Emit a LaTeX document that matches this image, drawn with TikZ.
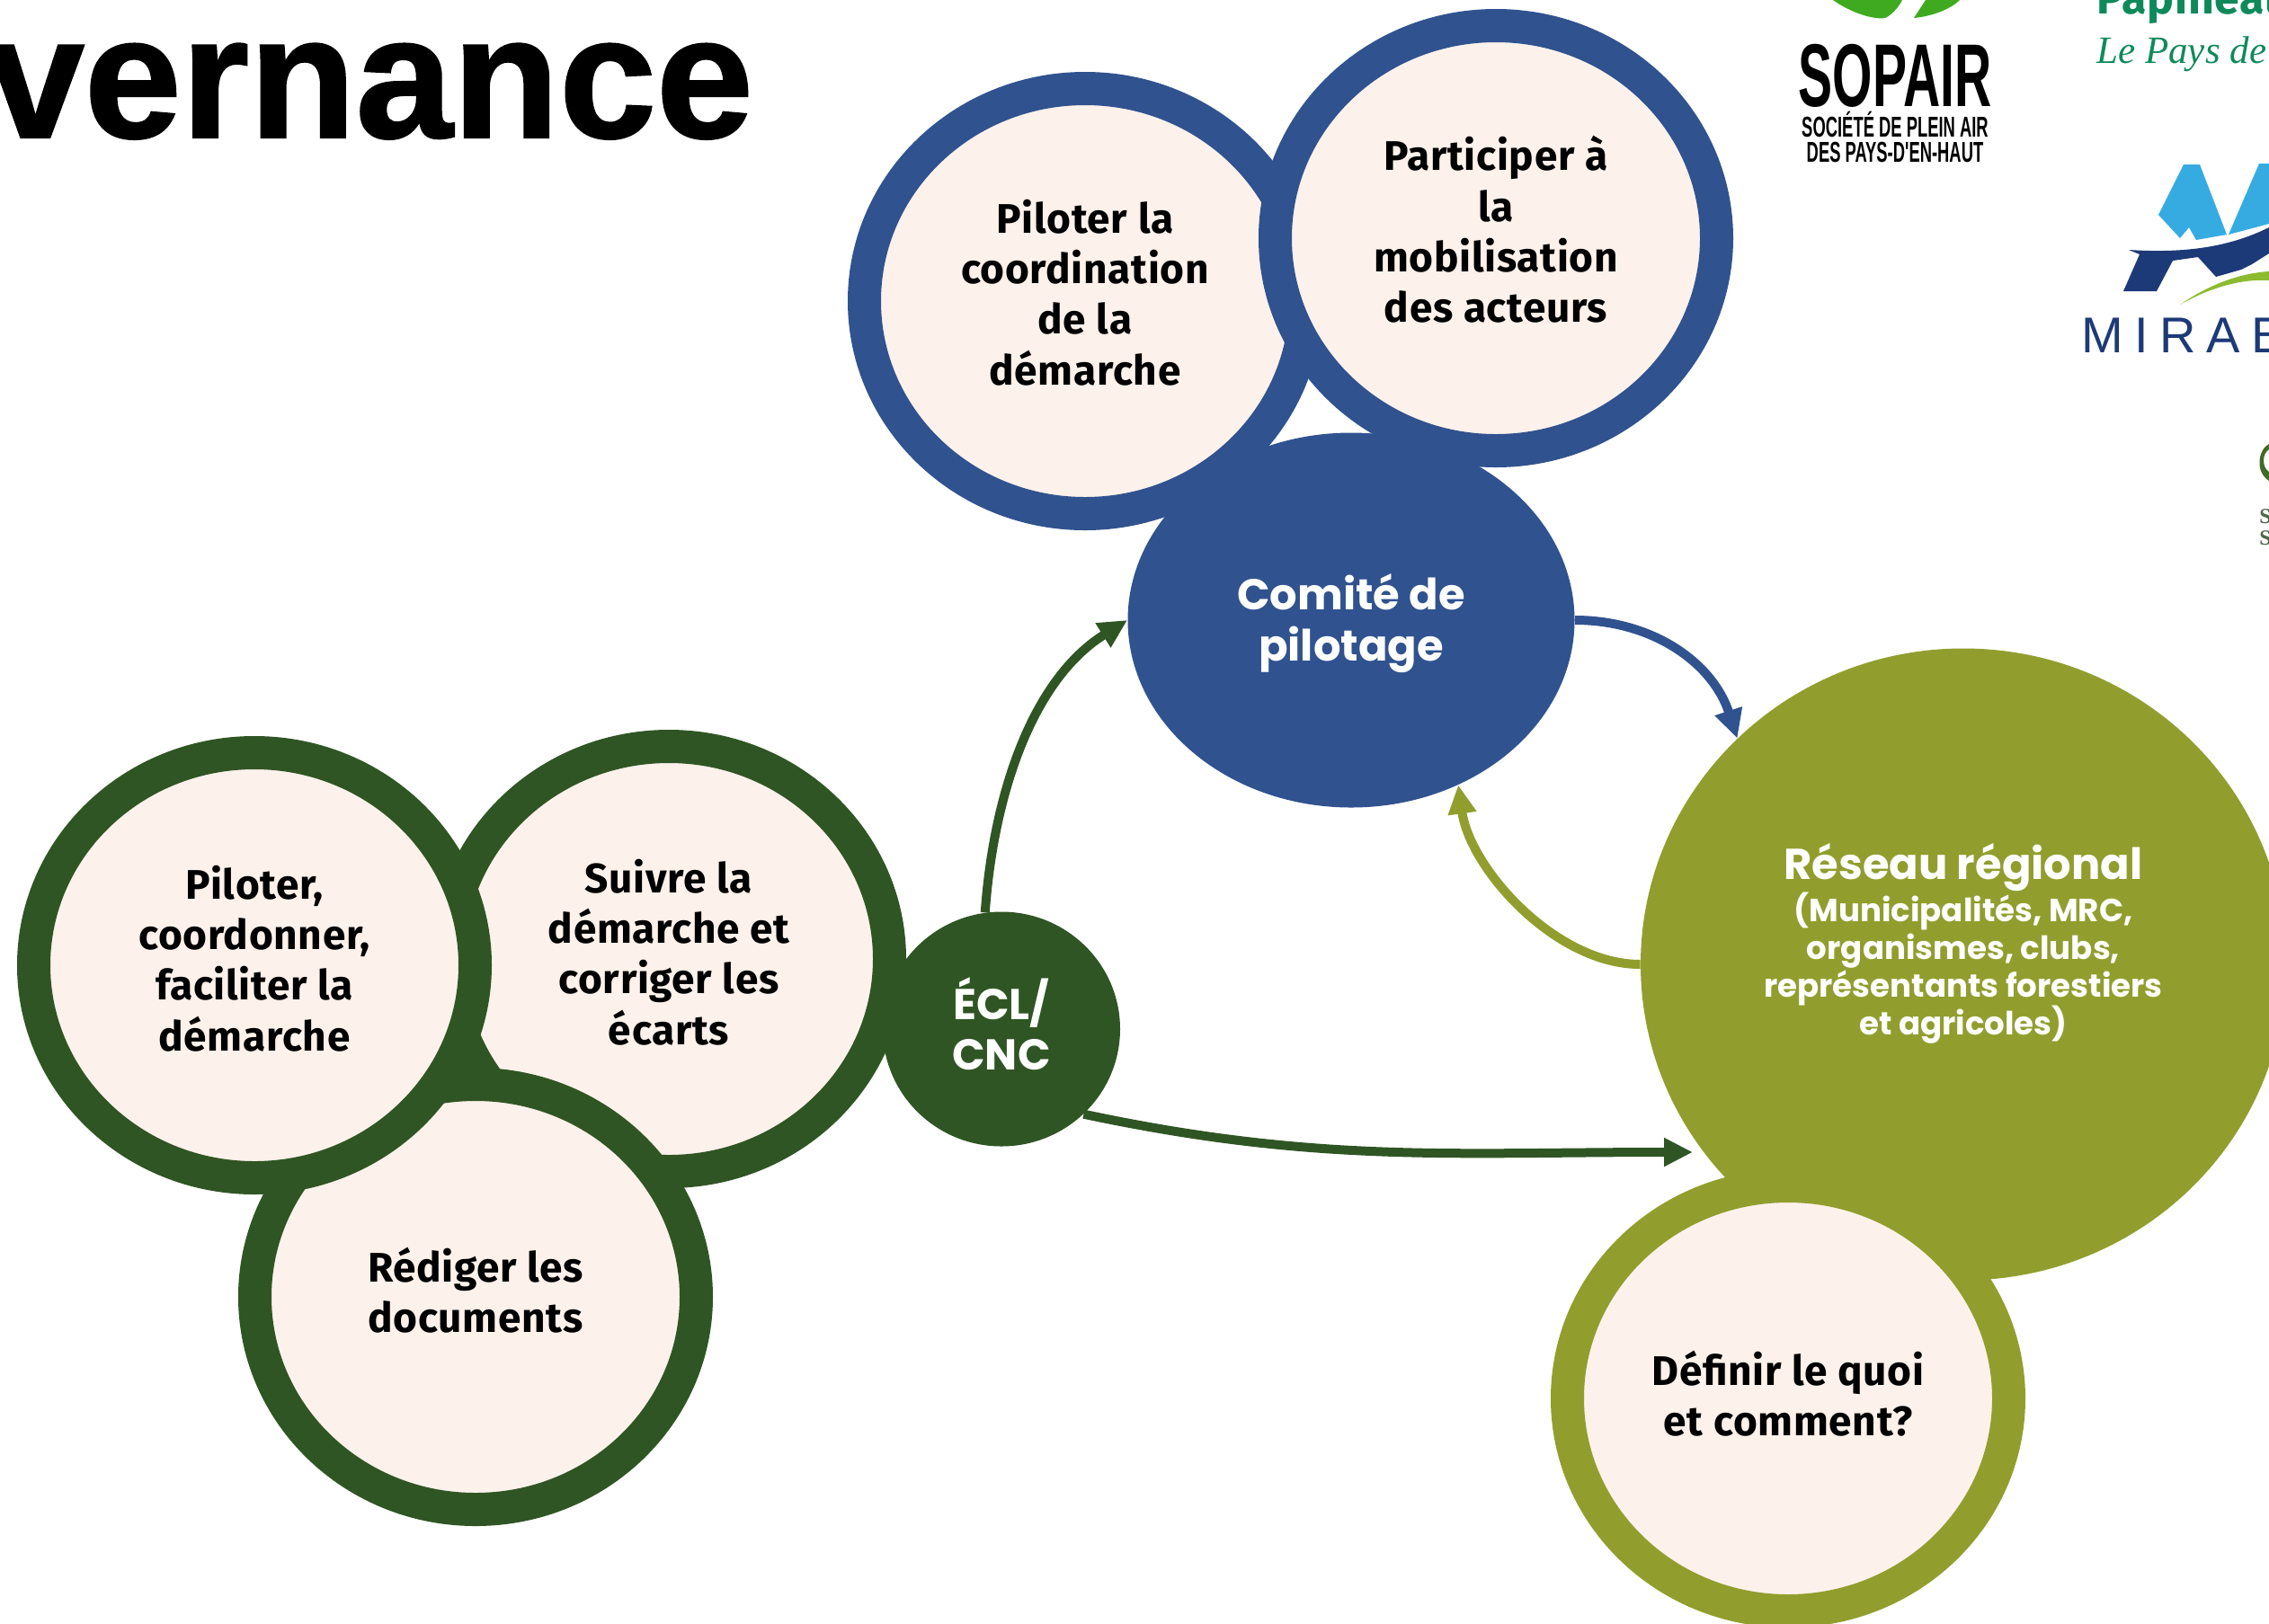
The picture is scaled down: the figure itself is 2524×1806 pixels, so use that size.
\documentclass[tikz,border=0pt]{standalone}
\usepackage{fontspec}
\setmainfont[LetterSpace=1.5]{Fira Sans}
\newfontfamily\headfont{Poppins}
\newfontfamily\titlefont[BoldFeatures={FakeBold=1.2}]{Liberation Sans}
\newfontfamily\logofont[FakeStretch=0.575]{Liberation Sans}
\newfontfamily\logowide[LetterSpace=22]{Liberation Sans}
\newfontfamily\logoserif{Liberation Serif}
\usetikzlibrary{shapes.geometric,arrows.meta}
\definecolor{blue1}{HTML}{30528F}
\definecolor{green1}{HTML}{305524}
\definecolor{olive1}{HTML}{919E2E}
\definecolor{cream1}{HTML}{FCF1EB}
\definecolor{logosky}{HTML}{36ABE2}
\definecolor{logonavy}{HTML}{1D3A78}
\definecolor{logolime}{HTML}{8DBB2F}
\definecolor{logoleaf}{HTML}{3FAA1F}
\definecolor{logoteal}{HTML}{0E8A5A}
\tikzstyle{ring} = [ellipse, draw, fill=cream1, line width=18.5pt, inner sep=0pt,
    minimum width=245.5pt, minimum height=236.5pt, align=center, text depth=8pt,
    font=\fontsize{23}{28.2}\selectfont\bfseries]
\tikzstyle{solid} = [ellipse, inner sep=0pt, align=center, text=white, text depth=3pt,
    font=\fontsize{24}{28.2}\headfont\bfseries]
\tikzstyle{link} = [line width=5pt, -{Triangle[length=16pt,width=15pt]}]

\begin{document}
\begin{tikzpicture}[x=0.5pt, y=-0.5pt]
    \path [use as bounding box, clip] (0,0) rectangle (2524,1806);

    \node (title) [anchor=base east, font=\fontsize{97}{97}\titlefont\bfseries] at (845,153) {uvernance};

    % blue group
    \node (comite) [solid, fill=blue1, minimum width=248.5pt, minimum height=208.5pt] at (1503,690) {Comité de\\pilotage};
    \node (b1) [ring, draw=blue1, text depth=10pt] at (1207,335) {Piloter la\\coordination\\de la\\démarche};
    \node (b2) [ring, draw=blue1, text depth=10pt] at (1664,265) {Participer à\\la\\mobilisation\\des acteurs};

    % green group
    \node (ecl) [solid, fill=green1, minimum width=132pt, minimum height=130.5pt, text depth=6pt] at (1114,1145) {ÉCL/\\CNC};
    \node (g2) [ring, draw=green1] at (744,1067) {Suivre la\\démarche et\\corriger les\\écarts};
    \node (g3) [ring, draw=green1] at (529,1443) {Rédiger les\\documents};
    \node (g1) [ring, draw=green1] at (283,1074) {Piloter,\\coordonner,\\faciliter la\\démarche};

    % olive group
    \node (reseau) [solid, fill=olive1, minimum width=359pt, minimum height=351.5pt, text depth=28pt,
        font=\fontsize{17.8}{21}\headfont\bfseries] at (2184,1073)
        {{\fontsize{24}{24}\selectfont Réseau régional}\\(Municipalités, MRC,\\organismes, clubs,\\représentants forestiers\\et agricoles)};
    \node (o1) [ring, draw=olive1, text depth=6pt] at (1989,1556) {Définir le quoi\\et comment?};

    \coordinate (tip4) at (1883,1282);
    \draw [link, green1] (ecl.98) to[out=86, in=212, looseness=0.9] (comite.180);
    \draw [link, blue1] (comite.0) to[out=0, in=108] (reseau.135);
    \draw [link, olive1] (reseau.180) to[out=180, in=-82, looseness=0.85] (comite.-57);
    \draw [link, green1] (ecl.-46) to[out=-12, in=180] (tip4);

    % logos
    \fill [logoleaf] (2039,0) .. controls (2060,15) and (2085,22) .. (2097,20) .. controls (2105,16) and (2112,8) .. (2116,0) -- cycle;
    \fill [logoleaf] (2129,20) .. controls (2150,18) and (2170,10) .. (2180,0) -- (2142,0) -- cycle;
    \node (s1) [anchor=base, inner sep=0pt, font=\fontsize{49.6}{50}\logofont\bfseries] at (2108,118) {SOPAIR};
    \node (s2) [anchor=base, inner sep=0pt, font=\fontsize{16}{14}\logofont\bfseries] at (2108,152) {SOCIÉTÉ DE PLEIN AIR};
    \node (s3) [anchor=base, inner sep=0pt, font=\fontsize{16}{14}\logofont\bfseries] at (2108,180) {DES PAYS-D'EN-HAUT};
    \node (p1) [anchor=base west, inner sep=0pt, text=logoteal, font=\fontsize{25}{25}\selectfont\bfseries] at (2332,15) {Papineau};
    \node (p2) [anchor=base west, inner sep=0pt, text=logoteal, font=\fontsize{21.5}{21.5}\logoserif\itshape] at (2332,70) {Le Pays de l};

    \fill [logosky] (2429,183) -- (2447,183) -- (2477,261) -- (2443,267) -- (2435,253) -- (2425,265) -- (2401,239) -- cycle;
    \fill [logosky] (2479,261) -- (2513,182) -- (2524,182) -- (2524,249) -- cycle;
    \fill [logonavy] (2368,278) .. controls (2430,282) and (2480,275) .. (2524,253) -- (2524,282) -- (2505,294) -- (2493,300) -- (2465,308) -- (2445,286) -- (2417,290) -- (2399,324) -- (2362,324) -- (2380,283) -- cycle;
    \fill [logolime] (2425,339) .. controls (2455,318) and (2490,304) .. (2524,302) -- (2524,312) .. controls (2490,310) and (2455,322) .. (2425,339) -- cycle;
    \node (m1) [anchor=base west, inner sep=0pt, text=logonavy, font=\fontsize{28}{28}\logowide] at (2315,392) {MIRAB};

    \fill [green1!80!logolime] (2524,494) .. controls (2512,500) and (2508,525) .. (2524,535) -- (2524,525) .. controls (2516,520) and (2516,505) .. (2524,500) -- cycle;
    \node (a1) [anchor=base west, inner sep=0pt, text=green1!60!gray, font=\fontsize{12}{12}\logoserif\bfseries] at (2513,582) {S};
    \node (a2) [anchor=base west, inner sep=0pt, text=green1!60!gray, font=\fontsize{12}{12}\logoserif\bfseries] at (2513,606) {S};
\end{tikzpicture}
\end{document}
